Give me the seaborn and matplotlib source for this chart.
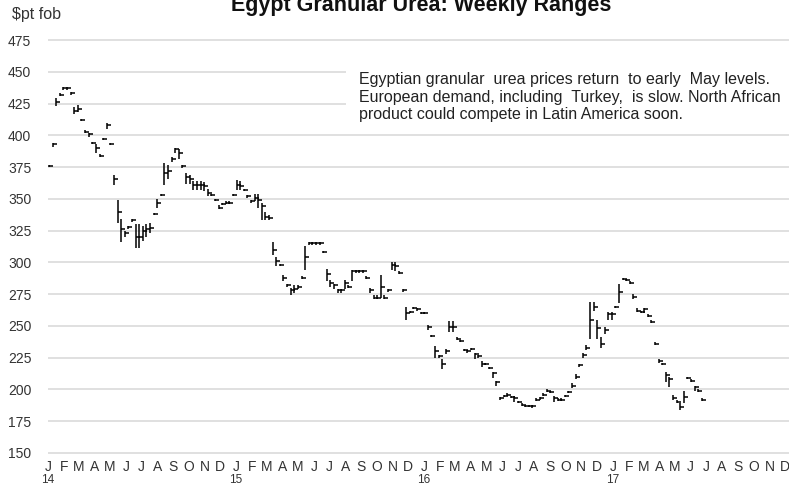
import pandas as pd
import numpy as np
from matplotlib import pyplot as plt
from matplotlib.patches import Rectangle
import matplotlib.transforms as mtransforms
import seaborn as sns

sns.set_style('white')
plt.rcParams['font.family'] = ['Liberation Sans', 'DejaVu Sans']

# weekly close, high, low ($/t fob), first week of Jan 2014 onwards
close = [376, 393, 426, 432, 437, 437, 433, 419, 421, 412, 403, 401, 394, 390, 384, 397, 408, 393, 366, 340,
         326, 323, 328, 333, 320, 320, 325, 326, 327, 338, 347, 353, 370, 372, 381, 389, 386, 376, 367, 366,
         361, 361, 361, 360, 355, 353, 349, 343, 346, 347, 347, 353, 361, 360, 357, 352, 348, 351, 349, 344,
         336, 335, 310, 301, 298, 288, 282, 278, 279, 281, 288, 304, 315, 315, 315, 315, 308, 291, 284, 282,
         278, 278, 284, 281, 293, 293, 293, 293, 288, 278, 272, 272, 281, 272, 278, 298, 297, 292, 278, 260,
         261, 264, 263, 260, 260, 249, 242, 230, 226, 220, 230, 249, 249, 240, 238, 231, 230, 232, 228, 226,
         220, 220, 217, 213, 206, 193, 195, 196, 194, 193, 190, 188, 187, 187, 187, 192, 193, 196, 199, 198,
         193, 192, 192, 195, 198, 203, 210, 219, 227, 233, 255, 265, 248, 236, 247, 259, 259, 265, 277, 287,
         286, 284, 273, 262, 261, 263, 258, 253, 236, 222, 220, 211, 208, 193, 190, 186, 194, 209, 207, 202,
         199, 192]
high = [377, 394, 429, 433, 438, 438, 434, 422, 424, 413, 404, 402, 395, 393, 385, 398, 410, 394, 369, 349,
        334, 325, 329, 334, 330, 330, 329, 330, 331, 339, 350, 354, 378, 377, 383, 390, 389, 377, 370, 369,
        364, 364, 364, 363, 358, 354, 350, 345, 347, 348, 348, 354, 365, 364, 358, 353, 349, 354, 354, 347,
        340, 337, 316, 304, 299, 290, 283, 280, 282, 282, 289, 313, 316, 316, 316, 316, 309, 295, 286, 283,
        279, 279, 286, 282, 294, 294, 294, 294, 289, 280, 274, 274, 290, 274, 279, 300, 300, 293, 279, 265,
        262, 265, 264, 261, 261, 251, 243, 234, 227, 224, 232, 254, 254, 241, 239, 232, 231, 233, 229, 227,
        222, 221, 218, 214, 207, 194, 196, 197, 195, 195, 191, 189, 188, 188, 188, 193, 194, 197, 200, 199,
        195, 193, 193, 196, 199, 205, 212, 220, 229, 235, 269, 269, 255, 241, 249, 261, 261, 266, 283, 288,
        287, 285, 275, 264, 262, 264, 259, 255, 237, 224, 221, 214, 210, 196, 192, 189, 199, 210, 208, 203,
        200, 193]
low = [375, 391, 423, 431, 436, 436, 432, 417, 418, 411, 402, 399, 393, 386, 383, 396, 405, 392, 361, 331,
       316, 320, 326, 332, 311, 311, 317, 320, 323, 337, 343, 352, 361, 366, 379, 386, 381, 374, 362, 362,
       357, 357, 357, 356, 352, 352, 348, 342, 345, 346, 346, 352, 357, 357, 356, 351, 347, 348, 343, 333,
       333, 333, 306, 297, 297, 285, 281, 274, 276, 279, 287, 294, 314, 314, 314, 314, 307, 285, 281, 279,
       276, 276, 279, 280, 285, 292, 292, 292, 287, 276, 271, 271, 272, 271, 277, 294, 293, 291, 277, 255,
       260, 263, 262, 259, 259, 247, 241, 225, 225, 216, 228, 245, 245, 239, 237, 230, 229, 231, 224, 225,
       218, 219, 216, 209, 203, 192, 194, 195, 193, 190, 189, 187, 186, 186, 185, 191, 192, 195, 198, 197,
       190, 191, 191, 194, 197, 201, 208, 218, 225, 231, 240, 262, 240, 233, 244, 255, 255, 264, 268, 286,
       285, 283, 271, 261, 260, 260, 257, 252, 235, 221, 219, 206, 202, 192, 189, 184, 189, 208, 206, 199,
       198, 191]

weeks = pd.date_range('2014-01-03', periods=len(close), freq='7D')
df = pd.DataFrame({'week': weeks, 'close': close, 'high': high, 'low': low})

months = pd.date_range('2014-01-01', '2017-12-01', freq='MS')
month_labels = [m.strftime('%b')[0] for m in months]
years = pd.date_range('2014-01-01', '2017-01-01', freq='YS')
year_labels = [y.strftime('%y') for y in years]
y_ticks = list(range(150, 476, 25))

fig = plt.figure(figsize=(7.89, 4.86), dpi=100)
ax = fig.add_axes([48/789, 30.5/486, 741/789, 418/486])

# high-low range bars, close tick to the right
ax.vlines(df['week'], df['low'], df['high'], color='black', linewidth=1.1)
sns.scatterplot(x='week', y='close', data=df, marker=1, s=10, color='black', linewidth=1.1, ax=ax)

ax.set_xlim(pd.Timestamp('2014-01-01'), pd.Timestamp('2017-12-09'))
ax.set_ylim(148, 477)
ax.set_yticks(y_ticks)
ax.set_xticks(months)
ax.set_xticklabels(month_labels)
ax.tick_params(axis='x', length=0, pad=3.5, labelsize=10, colors='#333333')
ax.tick_params(axis='y', length=0, pad=12, labelsize=10, colors='#333333')
ax.yaxis.grid(True, color='#dadada', linewidth=1.2)
ax.xaxis.grid(False)
ax.set_axisbelow(True)
sns.despine(ax=ax, left=True, bottom=True)
ax.set_xlabel('')
ax.set_ylabel('')

# year labels under each January
trans = mtransforms.blended_transform_factory(ax.transData, fig.transFigure)
for y, lab in zip(years, year_labels):
    ax.text(y, 1-480/486, lab, transform=trans, fontsize=8.5, color='#333333',
            ha='center', va='center', clip_on=False)

fig.add_artist(Rectangle((346/789, 1-130/486), 443/789, 65/486, transform=fig.transFigure,
                         facecolor='white', edgecolor='none', zorder=2))
fig.text(359/789, 1-72/486,
         'Egyptian granular  urea prices return  to early  May levels.\n'
         'European demand, including  Turkey,  is slow. North African\n'
         'product could compete in Latin America soon.',
         fontsize=11.5, color='#222222', va='top', ha='left', linespacing=1.22, zorder=3)

fig.text(421/789, 1-10.5/486, 'Egypt Granular Urea: Weekly Ranges', fontsize=15.5, weight='bold',
         color='#111111', ha='center', va='baseline')
fig.text(12/789, 1-14/486, '$pt fob', fontsize=11.5, color='#333333', ha='left', va='center')

plt.savefig('out.png', dpi=100)
plt.close()
